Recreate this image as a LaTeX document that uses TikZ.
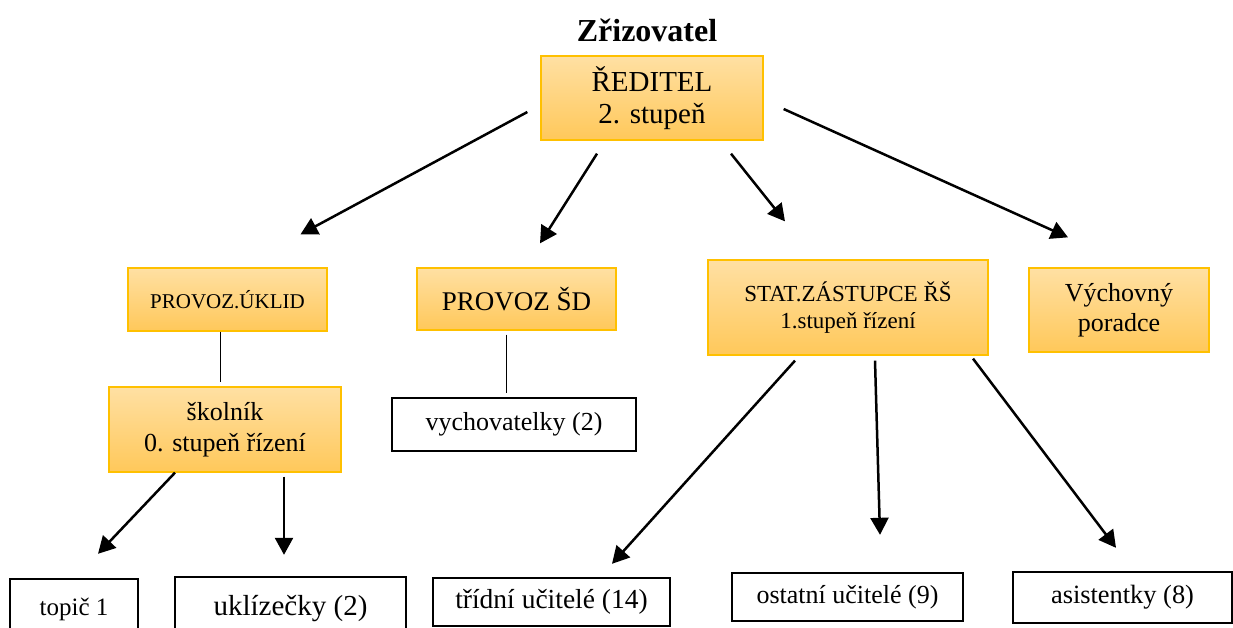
\documentclass[tikz,border=0pt]{standalone}
\usepackage{fontspec}
\setmainfont{Liberation Serif}
\usetikzlibrary{arrows.meta}
\definecolor{otop}{HTML}{FFE0A3}
\definecolor{obot}{HTML}{FFC85A}
\definecolor{oline}{HTML}{FFC000}
\tikzset{
  obox/.style={rectangle, inner sep=0pt, top color=otop, bottom color=obot, draw=oline, line width=1.3pt, align=center},
  wbox/.style={rectangle, inner sep=0pt, fill=white, draw=black, line width=2.4pt, align=center},
  arr/.style={line width=2.5pt, -{Triangle[length=17pt,width=18pt]}},
  ln/.style={line width=1pt},
}
\newcommand{\fs}[2]{\fontsize{#1}{#2}\selectfont}
\begin{document}
\begin{tikzpicture}[x=1pt,y=-1pt]
\clip (0,0) rectangle (1233,627);
\fill[white] (0,0) rectangle (1233,627);
% title
\node[font=\fs{32}{34}\bfseries] (title) at (647,30) {Zřizovatel};
% orange boxes
\node[obox, minimum width=222, minimum height=84, font=\fs{29}{32}] (reditel) at (652,98) {ŘEDITEL\\2. stupeň};
\node[obox, minimum width=199, minimum height=63, font=\fs{21}{22}] (uklid) at (227.5,299.5) {PROVOZ.ÚKLID};
\node[obox, minimum width=199, minimum height=62, font=\fs{27}{28}] (sd) at (516.5,299) {PROVOZ ŠD};
\node[obox, minimum width=280, minimum height=95, font=\fs{23}{27}] (stat) at (848,307.5) {STAT.ZÁSTUPCE ŘŠ\\1.stupeň řízení};
\node[obox, minimum width=180, minimum height=84, font=\fs{26}{30}] (vp) at (1119,310) {Výchovný\\poradce};
\node[obox, minimum width=232, minimum height=85, font=\fs{26}{31}] (skolnik) at (225,429.5) {školník\\0. stupeň řízení};
% white boxes
\node[wbox, minimum width=244, minimum height=53, font=\fs{26}{27}] (vych) at (514,424.5) {vychovatelky (2)};
\node[wbox, minimum width=128, minimum height=60, font=\fs{25}{26}] (topic) at (74,609) {topič 1};
\node[wbox, minimum width=231, minimum height=64, font=\fs{29}{30}] (ukl) at (290.5,609) {uklízečky (2)};
\node[wbox, minimum width=237, minimum height=48, font=\fs{27.5}{28}] (trid) at (551.5,602) {třídní učitelé (14)};
\node[wbox, minimum width=231, minimum height=48, font=\fs{26}{27}] (ost) at (847.5,597) {ostatní učitelé (9)};
\node[wbox, minimum width=219, minimum height=51, font=\fs{26.4}{27}] (asis) at (1122.5,597.5) {asistentky (8)};
% connectors
\draw[arr] ([shift={(-13,14)}]reditel.west) -- ([shift={(73,-33)}]uklid.north);
\draw[arr] ([shift={(-55,13)}]reditel.south) -- ([shift={(23.5,-24)}]sd.north);
\draw[arr] ([shift={(79,13)}]reditel.south) -- ([shift={(-63,-38)}]stat.north);
\draw[arr] ([shift={(20,11)}]reditel.east) -- ([shift={(-51,-30)}]vp.north);
\draw[ln] ([shift={(-7.5,0)}]uklid.south) -- ([shift={(-5,-4)}]skolnik.north);
\draw[ln] ([shift={(-10.5,4)}]sd.south) -- ([shift={(-8,-4)}]vych.north);
\draw[arr] ([shift={(-50,0)}]skolnik.south) -- ([shift={(24,-24)}]topic.north);
\draw[arr] ([shift={(59,4)}]skolnik.south) -- ([shift={(-6.5,-21)}]ukl.north);
\draw[arr] ([shift={(-53,5)}]stat.south) -- ([shift={(60.5,-13)}]trid.north);
\draw[arr] ([shift={(27,5)}]stat.south) -- ([shift={(32.5,-37)}]ost.north);
\draw[arr] ([shift={(125,3)}]stat.south) -- ([shift={(-6.5,-23)}]asis.north);
\end{tikzpicture}
\end{document}
